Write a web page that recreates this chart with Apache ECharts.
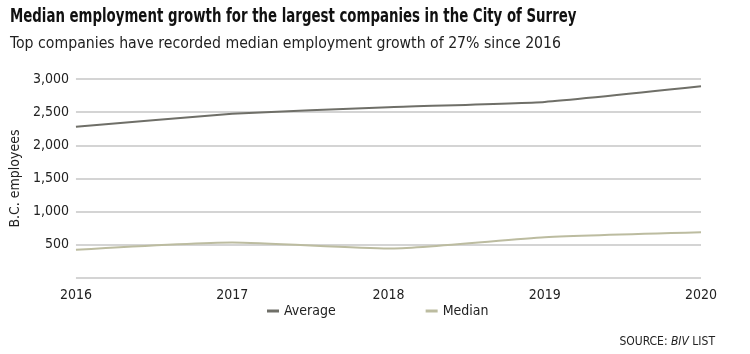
<!DOCTYPE html>
<html>
<head>
<meta charset="utf-8">
<script src="https://cdn.jsdelivr.net/npm/echarts@6/dist/echarts.min.js"></script>
<style>
  html, body { margin: 0; padding: 0; background: #fff; }
  #chart { width: 750px; height: 354px; }
</style>
</head>
<body>
<div id="chart"></div>
<script>
// 数据
var years = ['2016', '2017', '2018', '2019', '2020'];
var averageVals = [2280, 2475, 2575, 2655, 2890];
var medianVals = [425, 535, 445, 615, 690];
var yTicks = [0, 500, 1000, 1500, 2000, 2500, 3000];

var font = '"Liberation Sans Narrow", "DejaVu Sans Condensed", sans-serif';
var chart = echarts.init(document.getElementById('chart'));

var option = {
  animation: false,
  backgroundColor: '#fff',
  color: ['#6f6f68', '#bcbca0'],
  legend: {
    bottom: 31,
    left: 262,
    itemGap: 90,
    itemWidth: 12,
    itemHeight: 3,
    icon: 'rect',
    textStyle: { fontFamily: font, fontSize: 14, color: '#222' },
    data: ['Average', 'Median']
  },
  grid: { left: 75, right: 49, top: 79, bottom: 76 },
  xAxis: {
    type: 'category',
    data: years,
    boundaryGap: false,
    axisLine: { show: false },
    axisTick: { show: false },
    axisLabel: { fontFamily: font, fontSize: 14, color: '#222', margin: 10 }
  },
  yAxis: {
    type: 'value',
    min: yTicks[0],
    max: yTicks[yTicks.length - 1],
    interval: 500,
    name: 'B.C. employees',
    nameLocation: 'middle',
    nameGap: 52,
    nameTextStyle: { fontFamily: font, fontSize: 14, color: '#222' },
    axisLine: { show: false },
    axisTick: { show: false },
    splitLine: { lineStyle: { color: '#c6c6c6', width: 1.5 } },
    axisLabel: {
      fontFamily: font, fontSize: 14, color: '#222', margin: 7,
      formatter: function (v) { return v === 0 ? '' : v.toLocaleString('en-US'); }
    }
  },
  series: [
    {
      name: 'Average', type: 'line', data: averageVals, smooth: 0.15,
      symbol: 'none', lineStyle: { width: 2 }
    },
    {
      name: 'Median', type: 'line', data: medianVals, smooth: 0.2,
      symbol: 'none', lineStyle: { width: 2 }
    }
  ],
  graphic: [
    {
      type: 'text', x: 10, y: 8, scaleX: 0.78,
      style: {
        text: 'Median employment growth for the largest companies in the City of Surrey',
        fontFamily: font, fontWeight: 'bold', fontSize: 19, fill: '#111',
        verticalAlign: 'top'
      }
    },
    {
      type: 'text', x: 10, y: 36,
      style: {
        text: 'Top companies have recorded median employment growth of 27% since 2016',
        fontFamily: font, fontSize: 15.7, fill: '#222',
        verticalAlign: 'top'
      }
    },
    {
      type: 'text', right: 35, bottom: 6,
      style: {
        text: '{n|SOURCE: }{i|BIV}{n| LIST}',
        rich: {
          n: { fontFamily: font, fontSize: 12, fill: '#222' },
          i: { fontFamily: font, fontSize: 12, fontStyle: 'italic', fill: '#222' }
        }
      }
    }
  ]
};

chart.setOption(option);
</script>
</body>
</html>
